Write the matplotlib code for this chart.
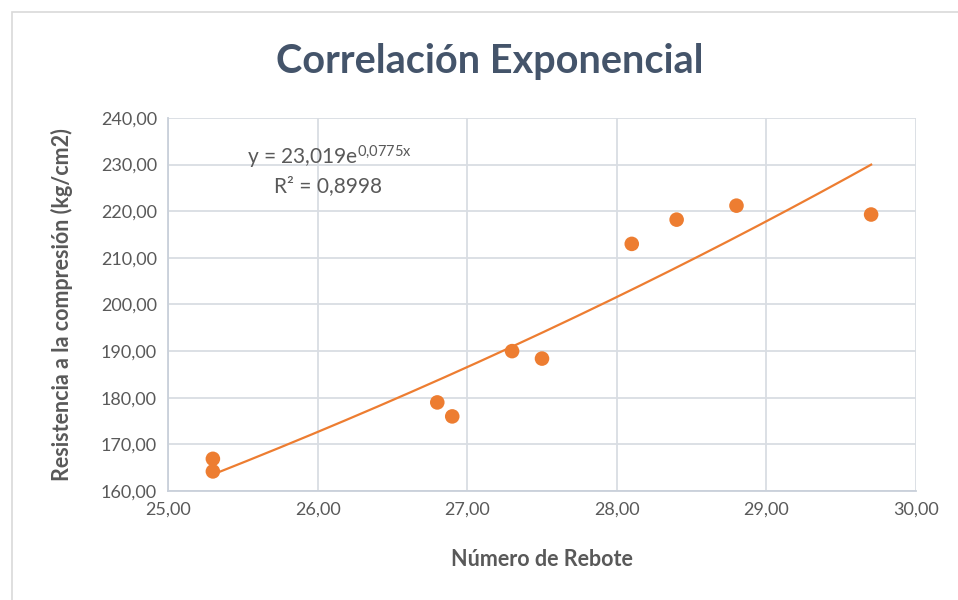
import matplotlib
matplotlib.use("Agg")
import matplotlib.pyplot as plt
import numpy as np
from matplotlib.ticker import FuncFormatter, MultipleLocator
from matplotlib.patches import Rectangle

plt.rcParams['font.family'] = ['Lato', 'DejaVu Sans']
plt.rcParams['mathtext.default'] = 'regular'

# Data
rebote = [25.3, 25.3, 26.8, 26.9, 27.3, 27.5, 28.1, 28.4, 28.8, 29.7]
resistencia = [166.9, 164.2, 179.0, 176.0, 190.0, 188.4, 213.0, 218.2, 221.2, 219.3]
fit_a = 23.019
fit_b = 0.0775
eq_text = r"y = 23,019e$^{0{,}0775x}$"
r2_text = "R² = 0,8998"
title = "Correlación Exponencial"
xlabel = "Número de Rebote"
ylabel = "Resistencia a la compresión (kg/cm2)"

orange = "#ED7D31"
grey_text = "#595959"
title_col = "#44546A"
grid_col = "#D9DDE3"

fig = plt.figure(figsize=(9.58, 6.0), dpi=100)
fig.patches.append(Rectangle((12/958, -0.01), 1.0, 1 - 12/600 + 0.01, transform=fig.transFigure,
                             fill=False, edgecolor="#D9D9D9", linewidth=1.2))
ax = fig.add_axes([168/958, 1 - 491/600, 748/958, 373/600])

xs = np.linspace(min(rebote), max(rebote), 200)
ax.plot(xs, fit_a * np.exp(fit_b * xs), color=orange, linewidth=1.6, zorder=3)
ax.scatter(rebote, resistencia, s=110, color=orange, zorder=4, edgecolors='none')

ax.set_xlim(25, 30)
ax.set_ylim(160, 240)
ax.xaxis.set_major_locator(MultipleLocator(1))
ax.yaxis.set_major_locator(MultipleLocator(10))
fmt = FuncFormatter(lambda v, p: f"{v:.2f}".replace(".", ","))
ax.xaxis.set_major_formatter(fmt)
ax.yaxis.set_major_formatter(fmt)
ax.grid(True, color=grid_col, linewidth=1.3)
ax.set_axisbelow(True)
for s in ["top", "right"]:
    ax.spines[s].set_visible(False)
for s in ["left", "bottom"]:
    ax.spines[s].set_color("#C9D0DA")
    ax.spines[s].set_linewidth(1.3)
ax.tick_params(length=0, labelsize=13, labelcolor=grey_text, pad=8)

ax.set_xlabel(xlabel, fontsize=15.5, fontweight='bold', color=grey_text, labelpad=22)
ax.set_ylabel(ylabel, fontsize=15.5, fontweight='bold', color=grey_text, labelpad=20)
fig.text(490/958, 1 - 62/600, title, ha='center', va='center', fontsize=28.5,
         fontweight='bold', color=title_col)

fig.text(329/958, 1 - 157/600, eq_text, ha='center', va='center',
         fontsize=15, color=grey_text)
fig.text(328/958, 1 - 186/600, r2_text, ha='center', va='center', fontsize=15, color=grey_text)

fig.savefig("out.png", dpi=100)
